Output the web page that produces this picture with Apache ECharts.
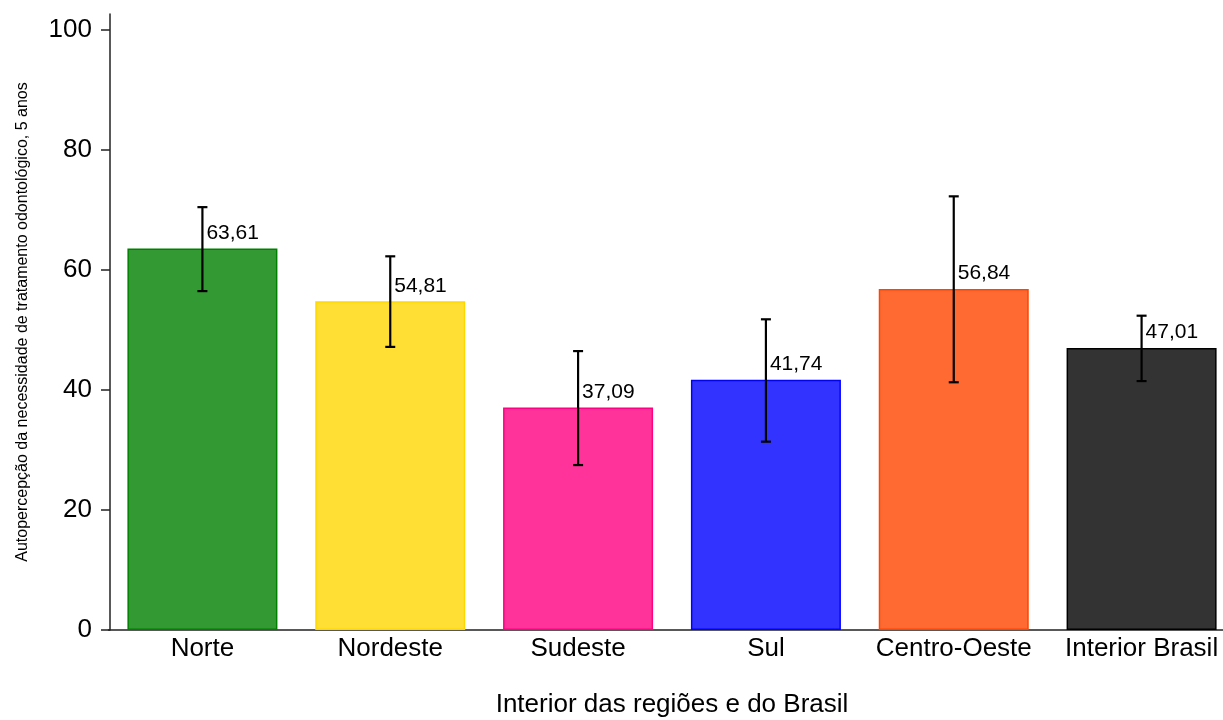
<!DOCTYPE html>
<html>
<head>
<meta charset="utf-8">
<script src="https://cdn.jsdelivr.net/npm/echarts@6/dist/echarts.min.js"></script>
<style>
html,body{margin:0;padding:0;background:#fff;}
#chart{width:1223px;height:720px;}
</style>
</head>
<body>
<div id="chart"></div>
<script>
var categories = ['Norte', 'Nordeste', 'Sudeste', 'Sul', 'Centro-Oeste', 'Interior Brasil'];
var values = [63.61, 54.81, 37.09, 41.74, 56.84, 47.01];
var lowerCI = [56.5, 47.2, 27.5, 31.4, 41.3, 41.5];
var upperCI = [70.5, 62.3, 46.5, 51.8, 72.3, 52.4];
var fillColors = ['#008000', '#FFD700', '#FF0080', '#0000FF', '#FF4500', '#000000'];
var yTicks = [0, 20, 40, 60, 80, 100];
var yAxisTitle = 'Autopercepção da necessidade de tratamento odontológico, 5 anos';
var xAxisTitle = 'Interior das regiões e do Brasil';

var FONT = 'Liberation Sans, Arial, sans-serif';

function withAlpha(hex, a) {
  var r = parseInt(hex.slice(1, 3), 16), g = parseInt(hex.slice(3, 5), 16), b = parseInt(hex.slice(5, 7), 16);
  return 'rgba(' + r + ',' + g + ',' + b + ',' + a + ')';
}

var barData = values.map(function (v, i) {
  return {
    value: v,
    itemStyle: { color: withAlpha(fillColors[i], 0.8), borderColor: fillColors[i], borderWidth: 1.5 }
  };
});
var errData = values.map(function (v, i) { return [i, v, lowerCI[i], upperCI[i]]; });

var chart = echarts.init(document.getElementById('chart'), null, { renderer: 'canvas' });
chart.setOption({
  animation: false,
  grid: { left: 108.5, top: 14, width: 1127, bottom: 90, containLabel: false, outerBoundsMode: 'none' },
  xAxis: {
    type: 'category',
    data: categories,
    name: xAxisTitle,
    nameLocation: 'middle',
    nameGap: 62,
    nameTextStyle: { fontSize: 26, color: '#000', fontFamily: FONT },
    axisLine: { lineStyle: { color: '#222', width: 1.5 } },
    axisTick: { show: false },
    axisLabel: { fontSize: 26, color: '#000', fontFamily: FONT, margin: 6, interval: 0 }
  },
  yAxis: {
    type: 'value',
    min: 0,
    max: 102.7,
    offset: -1.5,
    name: yAxisTitle,
    nameLocation: 'middle',
    nameGap: 79,
    nameTextStyle: { fontSize: 16, color: '#000', fontFamily: FONT },
    splitLine: { show: false },
    axisLine: { show: true, lineStyle: { color: '#222', width: 1.5 } },
    axisTick: { show: true, length: 9, customValues: yTicks, lineStyle: { color: '#222', width: 1.5 } },
    axisLabel: { fontSize: 26, color: '#000', fontFamily: FONT, margin: 18, customValues: yTicks }
  },
  series: [
    {
      type: 'bar',
      data: barData,
      barWidth: 150,
      silent: true
    },
    {
      type: 'custom',
      data: errData,
      silent: true,
      z: 5,
      renderItem: function (params, api) {
        var i = api.value(0);
        var top = api.coord([i, api.value(3)]);
        var bot = api.coord([i, api.value(2)]);
        var bar = api.coord([i, api.value(1)]);
        var cap = 5;
        var st = { stroke: '#000', lineWidth: 2.2 };
        return {
          type: 'group',
          children: [
            { type: 'line', shape: { x1: top[0], y1: top[1], x2: bot[0], y2: bot[1] }, style: st },
            { type: 'line', shape: { x1: top[0] - cap, y1: top[1], x2: top[0] + cap, y2: top[1] }, style: st },
            { type: 'line', shape: { x1: bot[0] - cap, y1: bot[1], x2: bot[0] + cap, y2: bot[1] }, style: st },
            {
              type: 'text',
              x: bar[0] + 4,
              y: bar[1] - 5,
              style: {
                text: api.value(1).toFixed(2).replace('.', ','),
                fill: '#000',
                font: '21px ' + FONT,
                textAlign: 'left',
                textVerticalAlign: 'bottom'
              }
            }
          ]
        };
      }
    }
  ]
});
</script>
</body>
</html>
